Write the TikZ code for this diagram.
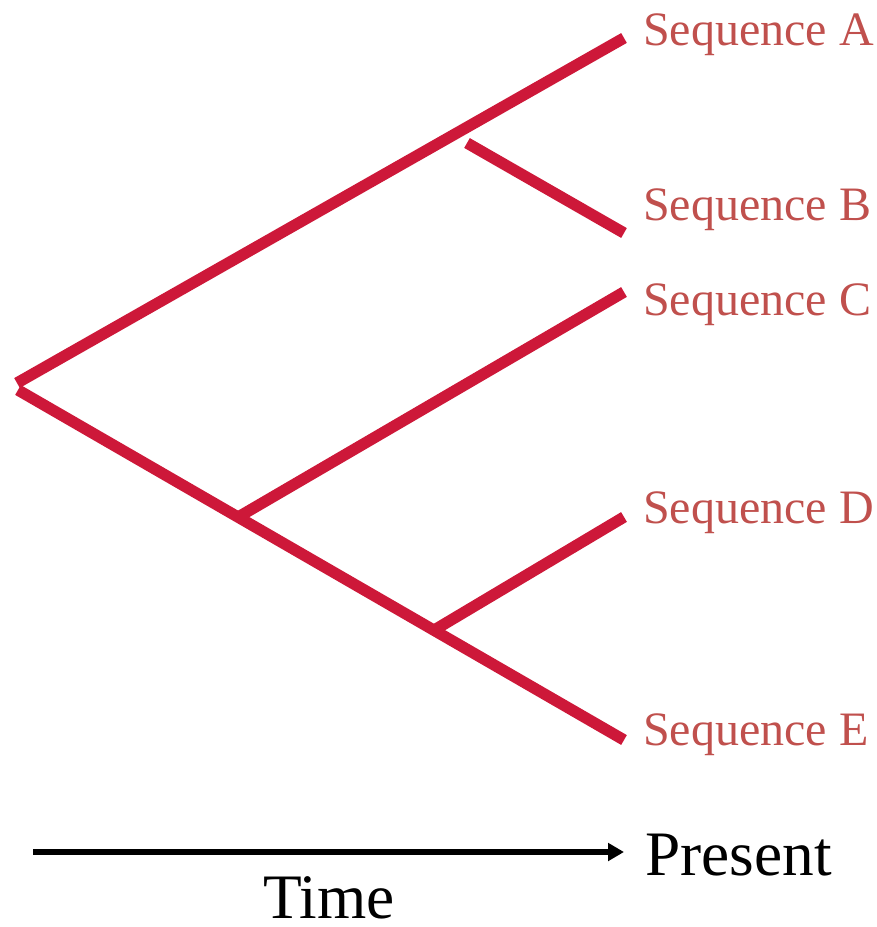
\documentclass[tikz,border=0pt]{standalone}
\usepackage{fontspec}
\setmainfont{Liberation Serif}
\usetikzlibrary{arrows.meta}
\definecolor{branchred}{RGB}{205,24,57}
\definecolor{labelred}{RGB}{192,80,77}
\tikzset{
  branch/.style={draw=branchred, line width=8.5pt, line cap=butt},
  seqlabel/.style={anchor=base west, inner sep=0pt, text=labelred,
    font=\fontsize{36}{40}\selectfont},
  axislabel/.style={anchor=base west, inner sep=0pt, text=black,
    font=\fontsize{47.5}{52}\selectfont},
  timearrow/.style={draw=black, line width=4.5pt,
    -{Triangle[length=12pt, width=13pt]}}
}
\begin{document}
\begin{tikzpicture}[x=0.75pt, y=-0.75pt]
  \useasboundingbox (0,0) rectangle (876,927);

  % tree vertices
  \coordinate (rootup) at (17,383);
  \coordinate (rootdown) at (18,390);
  \coordinate (forkB) at (467,143);
  \coordinate (forkC) at (240,516);
  \coordinate (forkD) at (436,629);
  \coordinate (tipA) at (624,38);
  \coordinate (tipB) at (624,233);
  \coordinate (tipC) at (624,292);
  \coordinate (tipD) at (624,517);
  \coordinate (tipE) at (624,740);

  % branches
  \draw[branch] (rootup) -- (tipA);
  \draw[branch] (rootdown) -- (tipE);
  \draw[branch] (forkB) -- (tipB);
  \draw[branch] (forkC) -- (tipC);
  \draw[branch] (forkD) -- (tipD);

  % leaf labels
  \node[seqlabel] (labA) at (643,46) {Sequence A};
  \node[seqlabel] (labB) at (643,220) {Sequence B};
  \node[seqlabel] (labC) at (643,315) {Sequence C};
  \node[seqlabel] (labD) at (643,523) {Sequence D};
  \node[seqlabel] (labE) at (643,745) {Sequence E};

  % time axis
  \coordinate (axisstart) at (33,852);
  \coordinate (axisend) at (624,852);
  \draw[timearrow] (axisstart) -- (axisend);
  \node[axislabel] (present) at (645,875) {Present};
  \node[axislabel] (time) at (263,918) {Time};
\end{tikzpicture}
\end{document}
